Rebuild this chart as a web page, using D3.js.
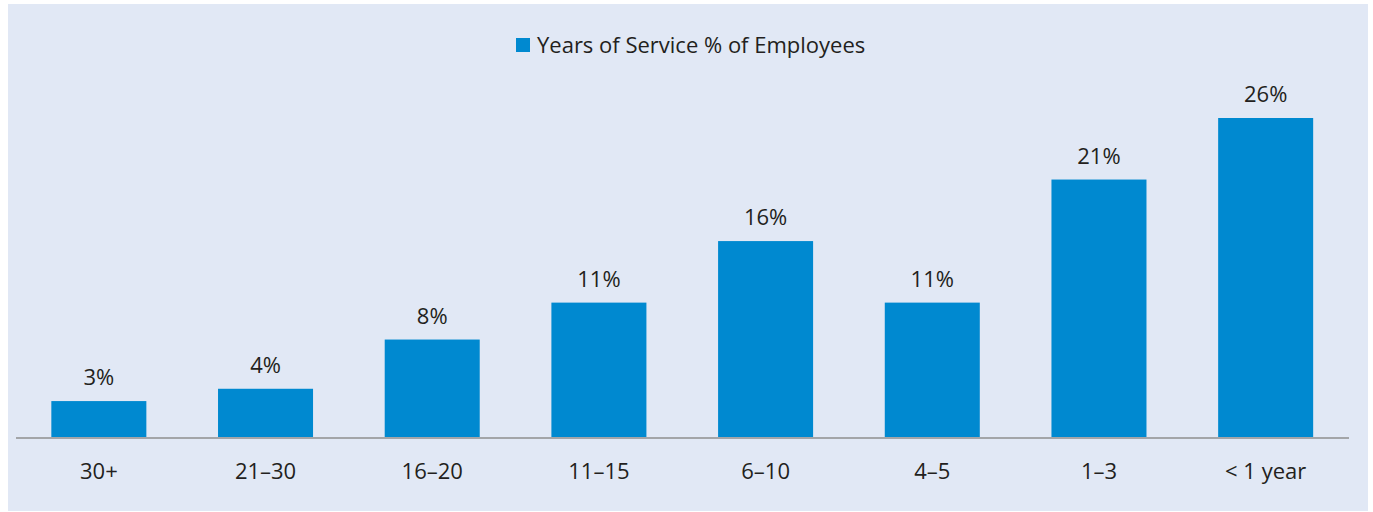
<!DOCTYPE html>
<html>
<head>
<meta charset="utf-8">
<script src="https://cdn.jsdelivr.net/npm/d3@7"></script>
<style>
  html, body { margin: 0; padding: 0; background: #ffffff; }
  svg { display: block; }
  text { font-family: "Open Sans", "Noto Sans", sans-serif; fill: #231f20; }
</style>
</head>
<body>
<svg id="chart" width="1373" height="512"></svg>
<script>
const categories = ["30+", "21–30", "16–20", "11–15", "6–10", "4–5", "1–3", "< 1 year"];
const values = [3, 4, 8, 11, 16, 11, 21, 26];
const valueLabels = ["3%", "4%", "8%", "11%", "16%", "11%", "21%", "26%"];
const seriesName = "Years of Service % of Employees";

const svg = d3.select("#chart");
const FS = 22;

svg.append("rect").attr("x", 8).attr("y", 4).attr("width", 1360).attr("height", 507).attr("fill", "#e1e8f5");

const x = d3.scaleBand().domain(categories).range([15.5, 1349]).paddingInner(0.43).paddingOuter(0.215);
const y = d3.scaleLinear().domain([0, 26]).range([438, 118]);

const g = svg.append("g");
g.selectAll("rect.bar").data(values).join("rect")
  .attr("class", "bar")
  .attr("x", (d, i) => x(categories[i]))
  .attr("width", x.bandwidth())
  .attr("y", d => y(d))
  .attr("height", d => y(0) - y(d))
  .attr("fill", "#0089d0");

g.selectAll("text.val").data(values).join("text")
  .attr("class", "val")
  .attr("x", (d, i) => x(categories[i]) + x.bandwidth() / 2)
  .attr("y", d => y(d) - 16)
  .attr("text-anchor", "middle")
  .attr("font-size", FS)
  .text((d, i) => valueLabels[i]);

// axis
const axis = d3.axisBottom(x).tickSize(0).tickPadding(25);
const ax = svg.append("g").attr("transform", "translate(0,438)").call(axis);
ax.select(".domain").attr("stroke", "#a3a5a8").attr("stroke-width", 2).attr("d", "M16,0H1349");
ax.selectAll(".tick text").attr("font-size", FS).attr("fill", "#231f20")
  .style("font-family", '"Open Sans", "Noto Sans", sans-serif');

// legend
const lg = svg.append("g");
lg.append("rect").attr("x", 516).attr("y", 38).attr("width", 14).attr("height", 14).attr("fill", "#0089d0");
lg.append("text").attr("x", 537).attr("y", 53).attr("font-size", FS).text(seriesName);
</script>
</body>
</html>
